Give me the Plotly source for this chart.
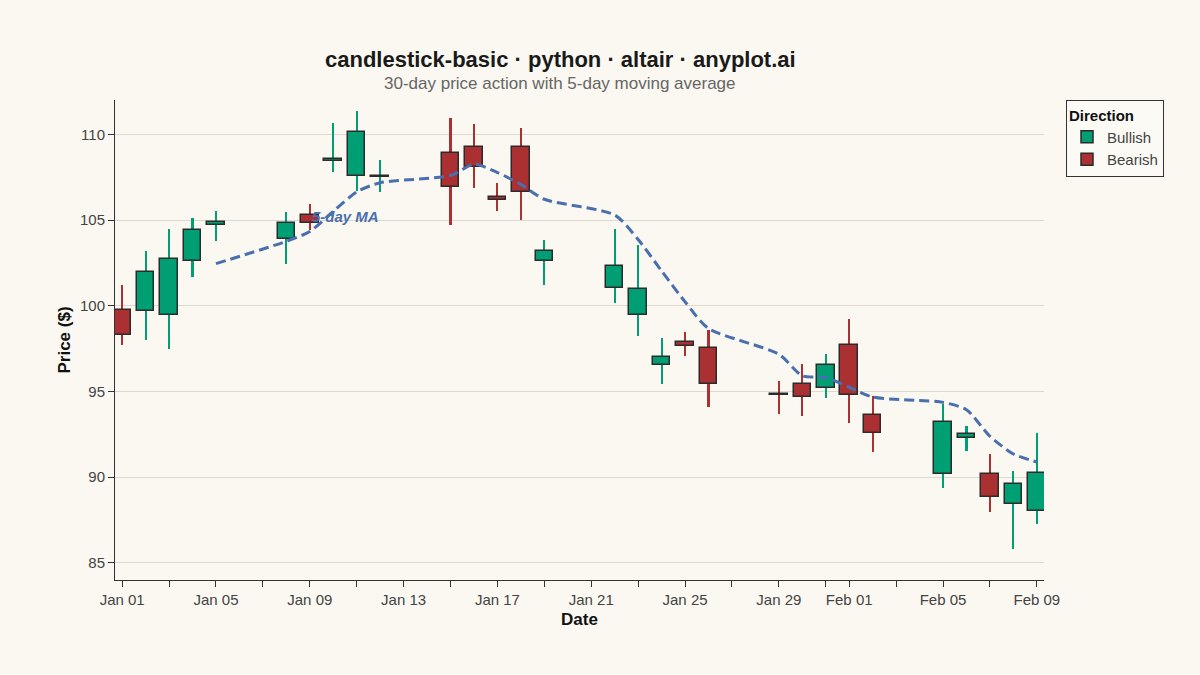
import pandas as pd
import plotly.graph_objects as go

# ---- data ----
dates = [
    "2024-01-01", "2024-01-02", "2024-01-03", "2024-01-04", "2024-01-05",
    "2024-01-08", "2024-01-09", "2024-01-10", "2024-01-11", "2024-01-12",
    "2024-01-15", "2024-01-16", "2024-01-17", "2024-01-18", "2024-01-19",
    "2024-01-22", "2024-01-23", "2024-01-24", "2024-01-25", "2024-01-26",
    "2024-01-29", "2024-01-30", "2024-01-31", "2024-02-01", "2024-02-02",
    "2024-02-05", "2024-02-06", "2024-02-07", "2024-02-08", "2024-02-09",
]
opens = [99.76, 99.68, 99.45, 102.60, 104.72,
         103.89, 105.29, 108.42, 107.57, 107.50,
         108.89, 109.24, 106.36, 109.28, 102.58,
         101.06, 99.45, 96.53, 97.86, 97.52,
         94.83, 95.44, 95.18, 97.73, 93.63,
         90.18, 92.28, 90.20, 88.45, 88.00]
highs = [101.18, 103.18, 104.49, 105.13, 105.52,
         105.46, 105.91, 110.68, 111.36, 108.50,
         110.97, 110.58, 107.18, 110.39, 103.85,
         104.49, 103.52, 98.10, 98.46, 98.61,
         95.63, 96.61, 97.21, 99.23, 94.72,
         94.27, 92.97, 91.35, 90.37, 92.56]
lows = [97.70, 97.99, 97.46, 101.67, 103.75,
        102.43, 104.40, 107.80, 106.67, 106.61,
        104.68, 106.89, 105.52, 105.00, 101.20,
        100.17, 98.22, 95.44, 97.09, 94.11,
        93.69, 93.59, 94.60, 93.17, 91.45,
        89.36, 91.51, 87.97, 85.78, 87.27]
closes = [98.28, 101.96, 102.72, 104.43, 104.88,
          104.80, 104.82, 108.58, 110.12, 107.55,
          106.90, 108.11, 106.17, 106.66, 103.21,
          102.31, 100.95, 97.03, 97.66, 95.42,
          94.79, 94.66, 96.57, 94.78, 92.56,
          93.24, 92.50, 88.84, 89.61, 90.22]

tick_dates = [
    "2024-01-01", "2024-01-03", "2024-01-05", "2024-01-07", "2024-01-09",
    "2024-01-11", "2024-01-13", "2024-01-15", "2024-01-17", "2024-01-19",
    "2024-01-21", "2024-01-23", "2024-01-25", "2024-01-27", "2024-01-29",
    "2024-01-31", "2024-02-01", "2024-02-03", "2024-02-05", "2024-02-07",
    "2024-02-09",
]
tick_labels = [
    "Jan 01", "", "Jan 05", "", "Jan 09", "", "Jan 13", "", "Jan 17", "",
    "Jan 21", "", "Jan 25", "", "Jan 29", "", "Feb 01", "", "Feb 05", "",
    "Feb 09",
]

df = pd.DataFrame({"date": pd.to_datetime(dates), "open": opens, "high": highs,
                   "low": lows, "close": closes})
df["ma5"] = df["close"].rolling(5).mean()
df["bull"] = df["close"] >= df["open"]
df["body_lo"] = df[["open", "close"]].min(axis=1)
df["body_h"] = (df["close"] - df["open"]).abs()

GREEN = "#009E73"
RED = "#AA3032"
OUTLINE = "#2b2b2b"
MA_COLOR = "#4A6FAE"
BG = "#FAF8F1"
FONT = "Liberation Sans, Arial, sans-serif"

DAY_MS = 86400000
fig = go.Figure()

for is_bull, color in [(True, GREEN), (False, RED)]:
    sub = df[df["bull"] == is_bull]
    fig.add_trace(go.Bar(
        x=sub["date"], y=sub["high"] - sub["low"], base=sub["low"],
        width=0.09 * DAY_MS, marker=dict(color=color, line=dict(width=0)),
        showlegend=False, hoverinfo="skip",
    ))

for is_bull, color, name in [(True, GREEN, "Bullish"), (False, RED, "Bearish")]:
    sub = df[df["bull"] == is_bull]
    fig.add_trace(go.Bar(
        x=sub["date"], y=sub["body_h"], base=sub["body_lo"],
        width=0.75 * DAY_MS, name=name,
        marker=dict(color=color, line=dict(color=OUTLINE, width=1.5)),
    ))

ma = df.dropna(subset=["ma5"])
fig.add_trace(go.Scatter(
    x=ma["date"], y=ma["ma5"], mode="lines",
    line=dict(color=MA_COLOR, width=3, dash="10px,5px", shape="spline", smoothing=0.7),
    showlegend=False, hoverinfo="skip",
))

fig.add_annotation(
    x="2024-01-09", y=105.2, xref="x", yref="y", xanchor="left", yanchor="middle",
    text="<b><i>5-day MA</i></b>", showarrow=False,
    font=dict(family=FONT, size=15, color=MA_COLOR),
)

L, R, T, B = 115, 156, 100, 95
pw = 1200 - L - R

fig.add_annotation(
    x=(560 - L) / pw, y=1, xref="paper", yref="paper", yshift=41,
    text="<b>candlestick-basic · python · altair · anyplot.ai</b>", showarrow=False,
    xanchor="center", yanchor="middle", font=dict(family=FONT, size=22, color="#1a1a1a"),
)
fig.add_annotation(
    x=(560 - L) / pw, y=1, xref="paper", yref="paper", yshift=17,
    text="30-day price action with 5-day moving average", showarrow=False,
    xanchor="center", yanchor="middle", font=dict(family=FONT, size=17, color="#666666"),
)

fig.update_layout(
    width=1200, height=675,
    margin=dict(l=L, r=R, t=T, b=B),
    paper_bgcolor=BG, plot_bgcolor=BG,
    barmode="overlay", bargap=0,
    font=dict(family=FONT, size=15, color="#444444"),
    legend=dict(
        title=dict(text="<b>Direction</b>", font=dict(family=FONT, size=15, color="#111111")),
        x=(1066 - L) / pw, y=1, xanchor="left", yanchor="top",
        bordercolor="#333333", borderwidth=1, bgcolor="rgba(255,255,255,0.25)",
        font=dict(family=FONT, size=15, color="#444444"),
        tracegroupgap=0, itemwidth=30,
    ),
    showlegend=True,
)

fig.update_xaxes(
    type="date",
    range=["2023-12-31 16:40", "2024-02-09 07:20"],
    tickvals=pd.to_datetime(tick_dates), ticktext=tick_labels,
    ticks="outside", ticklen=6, tickcolor="#333333", tickwidth=1,
    showline=True, linecolor="#333333", linewidth=1,
    showgrid=False, zeroline=False,
    tickfont=dict(family=FONT, size=15, color="#444444"),
    title=dict(text="<b>Date</b>", font=dict(family=FONT, size=17, color="#111111"), standoff=6),
)
fig.update_yaxes(
    range=[84, 112],
    tickvals=[85, 90, 95, 100, 105, 110],
    ticks="outside", ticklen=6, tickcolor="#333333", tickwidth=1,
    showline=True, linecolor="#333333", linewidth=1,
    showgrid=True, gridcolor="#DCD9D0", gridwidth=1, zeroline=False,
    tickfont=dict(family=FONT, size=15, color="#444444"),
    title=dict(text="<b>Price ($)</b>", font=dict(family=FONT, size=17, color="#111111"), standoff=5),
)

fig.write_html(
    "out.html",
    config={"displayModeBar": False},
    post_script="document.body.style.margin='0';document.body.style.overflow='hidden';"
                "document.body.style.background='" + BG + "';",
)
